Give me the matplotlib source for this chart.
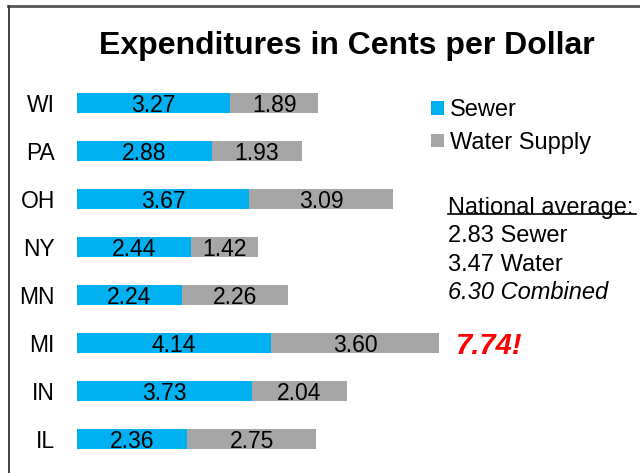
import matplotlib
matplotlib.use("Agg")
import matplotlib.pyplot as plt
from matplotlib.lines import Line2D

# data
states = ["WI", "PA", "OH", "NY", "MN", "MI", "IN", "IL"]
sewer = [3.27, 2.88, 3.67, 2.44, 2.24, 4.14, 3.73, 2.36]
water = [1.89, 1.93, 3.09, 1.42, 2.26, 3.60, 2.04, 2.75]
avg_lines = ["2.83 Sewer", "3.47 Water"]
avg_combined = "6.30 Combined"
highlight_state = "MI"

plt.rcParams['font.family'] = ['Liberation Sans', 'DejaVu Sans']

W, H = 640, 473
fig = plt.figure(figsize=(6.4, 4.73), dpi=100)

# axes placed so that row spacing / scale match the picture
left_px, top_px, bottom_px = 77, 79, 463
px_per_unit = 46.8
ax = fig.add_axes([left_px / W, 1 - bottom_px / H, (W - left_px) / W, (bottom_px - top_px) / H])

sewer_col = "#00B0F0"
water_col = "#A6A6A6"
ypos = list(range(len(states)))
bh = 0.42
b1 = ax.barh(ypos, sewer, height=bh, color=sewer_col, label="Sewer")
b2 = ax.barh(ypos, water, left=sewer, height=bh, color=water_col, label="Water Supply")

for i in ypos:
    ax.text(sewer[i] / 2, i, f"{sewer[i]:.2f}", ha="center", va="center_baseline", fontsize=16.5)
    ax.text(sewer[i] + water[i] / 2, i, f"{water[i]:.2f}", ha="center", va="center_baseline", fontsize=16.5)

ax.set_xlim(0, (W - left_px) / px_per_unit)
ax.set_ylim(len(states) - 0.5, -0.5)
ax.set_yticks(ypos)
ax.set_yticklabels(states, fontsize=16.5, va="center_baseline")
ax.tick_params(axis="y", length=0, pad=16)
ax.set_xticks([])
for s in ax.spines.values():
    s.set_visible(False)

# the standout total
k = states.index(highlight_state)
ax.annotate(f"{sewer[k] + water[k]:.2f}!", xy=(sewer[k] + water[k], k), xytext=(12, 0),
            textcoords="offset points", ha="left", va="center_baseline", fontsize=21,
            fontweight="bold", fontstyle="italic", color="#FF0000")

fig.text(347 / W, 1 - 46 / H, "Expenditures in Cents per Dollar", ha="center", va="center",
         fontsize=23, fontweight="bold")

fig.legend(handles=[b1, b2], loc="upper left", bbox_to_anchor=(410 / W, 1 - 78 / H),
           frameon=False, fontsize=17, handlelength=0.52, handleheight=0.52,
           handletextpad=0.28, labelspacing=0.45)

tx = 448 / W
fig.text(tx, 1 - 205 / H, "National average:", ha="left", va="center_baseline", fontsize=17)
fig.add_artist(Line2D([tx, 636 / W], [1 - 214 / H, 1 - 214 / H], color="black", lw=1.2))
for j, s in enumerate(avg_lines):
    fig.text(tx, 1 - (233 + 29 * j) / H, s, ha="left", va="center_baseline", fontsize=17)
fig.text(tx, 1 - 290 / H, avg_combined, ha="left", va="center_baseline", fontsize=17, fontstyle="italic")

# slide frame
fig.add_artist(Line2D([8 / W, 1], [1 - 6 / H, 1 - 6 / H], color="#555555", lw=2))
fig.add_artist(Line2D([9 / W, 9 / W], [0, 1 - 6 / H], color="#333333", lw=1.3))

fig.savefig("out.png", dpi=100)
